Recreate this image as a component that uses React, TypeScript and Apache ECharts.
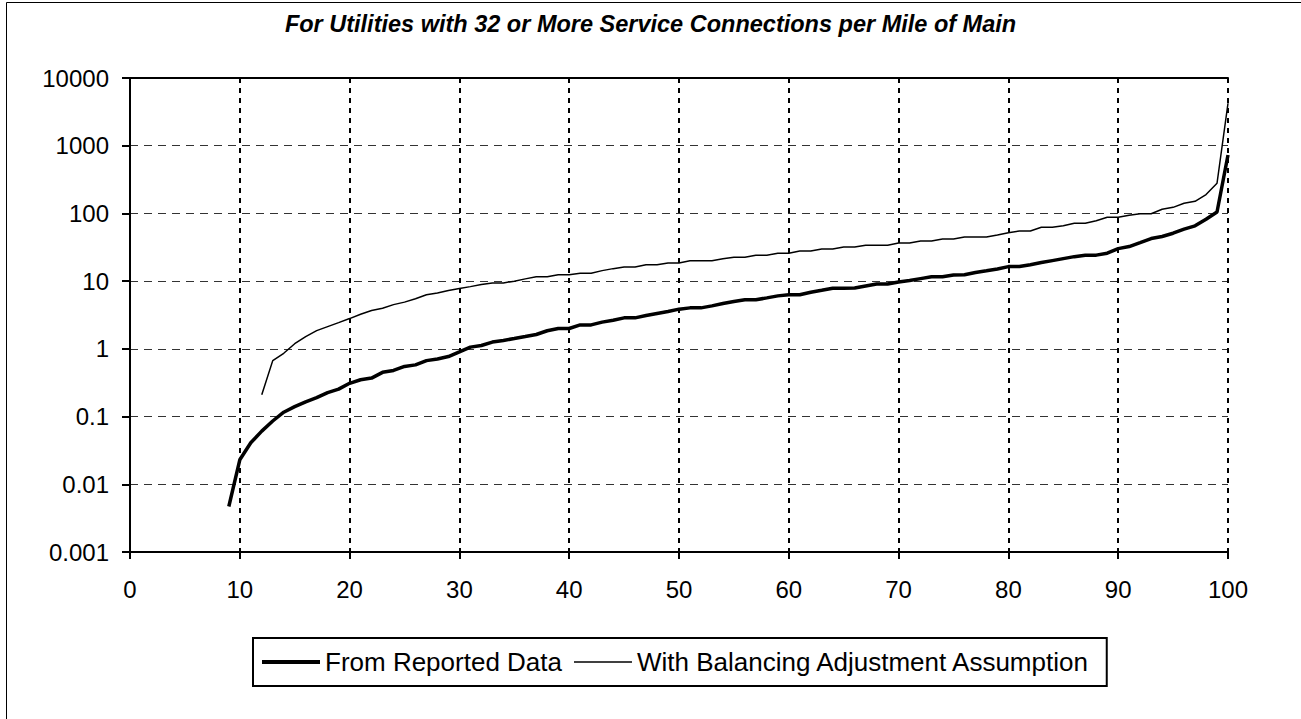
import React, { useEffect, useRef } from "react";
import * as echarts from "echarts";

const titleText = "For Utilities with 32 or More Service Connections per Mile of Main";
const seriesNames = ["From Reported Data", "With Balancing Adjustment Assumption"];

// x tick labels (percentile) and y tick labels (log scale)
const xTickLabels = ["0", "10", "20", "30", "40", "50", "60", "70", "80", "90", "100"];
const yTickLabels = ["0.001", "0.01", "0.1", "1", "10", "100", "1000", "10000"];

// First percentile of each series; subsequent values are consecutive percentiles
const reportedStart = 9;
const reportedValues = [
  0.0047, 0.023, 0.041, 0.061, 0.086, 0.116, 0.14, 0.165, 0.19, 0.226, 0.254,
  0.31, 0.35, 0.37, 0.45, 0.48, 0.55, 0.58, 0.67, 0.71, 0.77,
  0.9, 1.06, 1.12, 1.26, 1.33, 1.42, 1.52, 1.63, 1.85, 2.0,
  2.0, 2.26, 2.26, 2.48, 2.65, 2.87, 2.87, 3.1, 3.33, 3.56,
  3.86, 4.03, 4.03, 4.31, 4.67, 5.0, 5.3, 5.3, 5.66, 6.06,
  6.3, 6.3, 6.87, 7.35, 7.87, 7.87, 7.9, 8.5, 9.1, 9.1,
  9.7, 10.2, 10.9, 11.6, 11.6, 12.3, 12.4, 13.4, 14.2, 15.1,
  16.4, 16.4, 17.5, 18.8, 20.1, 21.5, 23, 24.2, 24.2, 25.9,
  30.2, 32.4, 37.1, 42.6, 45.7, 51, 58.5, 65.5, 82, 105,
  730,
];

const balancingStart = 12;
const balancingValues = [
  0.21, 0.67, 0.86, 1.19, 1.52, 1.86, 2.13, 2.44,
  2.8, 3.25, 3.68, 3.98, 4.5, 4.9, 5.5, 6.3, 6.7, 7.3,
  7.8, 8.3, 8.9, 9.4, 9.4, 10, 10.8, 11.6, 11.6, 12.4,
  12.4, 13.1, 13.1, 14.3, 15.3, 16.2, 16.2, 17.4, 17.4, 18.6,
  18.6, 20, 20, 20, 21.4, 22.6, 22.6, 24.2, 24.2, 25.9,
  25.9, 27.9, 27.9, 29.9, 29.9, 32, 32, 34, 34, 34,
  36.5, 36.5, 39.3, 39.3, 42, 42, 45, 45, 45, 48,
  52, 55, 55, 62.5, 62.5, 66, 71.6, 71.6, 78, 88,
  88, 94, 99, 99, 115, 123, 141, 151, 190, 279,
  4240,
];

const FONT = "'Liberation Sans', Arial, Helvetica, sans-serif";

export default function App() {
  const ref = useRef<HTMLDivElement>(null);

  useEffect(() => {
    if (!ref.current) return;
    const chart = echarts.init(ref.current, undefined, { renderer: "svg" });

    const reportedData = reportedValues.map((v, i) => [reportedStart + i, v]);
    const balancingData = balancingValues.map((v, i) => [balancingStart + i, v]);

    chart.setOption({
      animation: false,
      backgroundColor: "#fff",
      textStyle: { fontFamily: FONT },
      title: {
        text: titleText,
        left: "center",
        top: 7,
        textStyle: {
          fontFamily: FONT,
          fontSize: 23.5,
          fontWeight: "bold",
          fontStyle: "italic",
          color: "#000",
        },
      },
      grid: { left: 130, right: 73, top: 78, bottom: 167, containLabel: false },
      legend: {
        left: 253,
        top: 638,
        orient: "horizontal",
        itemWidth: 58,
        itemHeight: 14,
        itemGap: 12,
        padding: [11, 16, 11, 9],
        borderColor: "#000",
        borderWidth: 2,
        itemStyle: { borderWidth: 0 },
        textStyle: { fontFamily: FONT, fontSize: 26, color: "#000" },
        data: [
          { name: seriesNames[0], icon: "path://M0,0H58V4H0Z" },
          { name: seriesNames[1], icon: "path://M0,0H58V1.5H0Z" },
        ],
      },
      graphic: [
        {
          type: "rect",
          shape: { x: 6.5, y: 2.5, width: 1400, height: 800 },
          style: { fill: "none", stroke: "#000", lineWidth: 1 },
          silent: true,
        },
      ],
      xAxis: [
        {
          type: "value",
          min: 0,
          max: 100,
          interval: 10,
          position: "bottom",
          axisLine: { show: true, onZero: false, lineStyle: { color: "#000", width: 2 } },
          axisTick: { show: true, inside: false, length: 7, lineStyle: { color: "#000", width: 2 } },
          axisLabel: {
            color: "#000",
            fontFamily: FONT,
            fontSize: 24,
            margin: 25.5,
            formatter: (v: number) => xTickLabels[Math.round(v / 10)] ?? "",
          },
          splitLine: {
            show: true,
            lineStyle: { color: "#000", width: 2, type: [5, 5] },
          },
        },
        {
          type: "value",
          min: 0,
          max: 100,
          position: "top",
          axisLine: { show: true, onZero: false, lineStyle: { color: "#000", width: 2 } },
          axisTick: { show: false },
          axisLabel: { show: false },
          splitLine: { show: false },
        },
      ],
      yAxis: {
        type: "log",
        logBase: 10,
        min: 0.001,
        max: 10000,
        axisLine: { show: true, onZero: false, lineStyle: { color: "#000", width: 2 } },
        axisTick: { show: true, inside: false, length: 8, lineStyle: { color: "#000", width: 2 } },
        axisLabel: {
          color: "#000",
          fontFamily: FONT,
          fontSize: 24,
          margin: 21,
          formatter: (v: number) => yTickLabels[Math.round(Math.log10(v)) + 3] ?? "",
        },
        splitLine: {
          show: true,
          lineStyle: { color: "#333", width: 1, type: [8, 6] },
        },
      },
      series: [
        {
          name: seriesNames[0],
          type: "line",
          xAxisIndex: 0,
          data: reportedData,
          showSymbol: false,
          symbol: "none",
          color: "#000",
          lineStyle: { color: "#000", width: 3.5 },
          z: 3,
        },
        {
          name: seriesNames[1],
          type: "line",
          xAxisIndex: 0,
          data: balancingData,
          showSymbol: false,
          symbol: "none",
          color: "#000",
          lineStyle: { color: "#000", width: 1.5 },
          z: 3,
        },
      ],
    });

    return () => chart.dispose();
  }, []);

  return (
    <div
      ref={ref}
      style={{ position: "fixed", left: 0, top: 0, width: 1301, height: 719, background: "#fff" }}
    />
  );
}
